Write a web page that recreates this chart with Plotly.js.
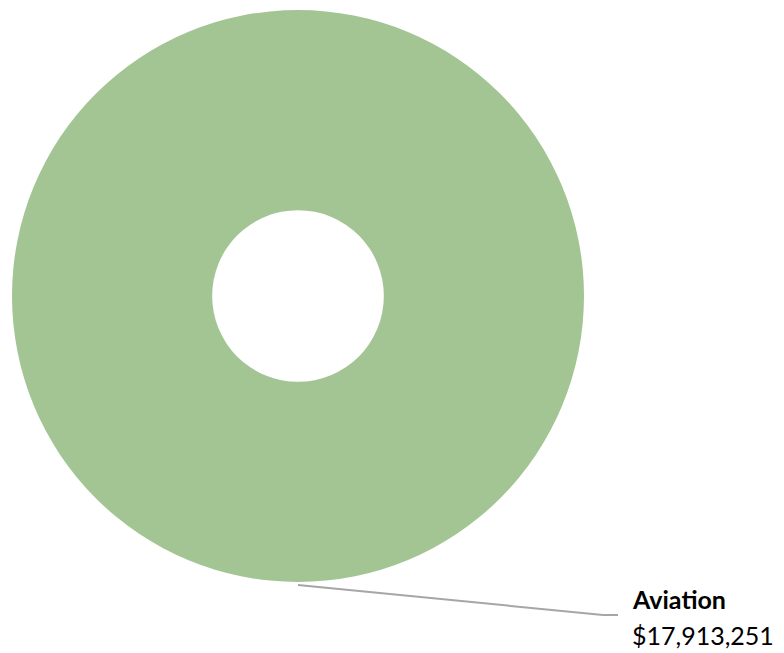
<!DOCTYPE html>
<html>
<head>
<meta charset="utf-8">
<script src="https://cdn.plot.ly/plotly-3.0.1.min.js"></script>
<style>
  html, body { margin: 0; padding: 0; background: #ffffff; }
  #chart { width: 784px; height: 653px; }
</style>
</head>
<body>
<div id="chart"></div>
<script>
// Funding by segment
const categories = ["Aviation"];
const amounts = [17913251];
const sliceColors = ["#A3C593"];

const W = 784, H = 653;
const px = x => x / W;
const py = y => 1 - y / H;

const fmt = v => "$" + v.toLocaleString("en-US");

const trace = {
  type: "pie",
  labels: categories,
  values: amounts,
  hole: 0.3,
  sort: false,
  direction: "clockwise",
  rotation: 0,
  textinfo: "none",
  hoverinfo: "label+value",
  marker: { colors: sliceColors, line: { width: 0 } },
  domain: { x: [px(12), px(584)], y: [py(582), py(10)] },
  showlegend: false
};

const labelFont = "Lato, 'Open Sans', 'Liberation Sans', sans-serif";

const layout = {
  width: W,
  height: H,
  margin: { l: 0, r: 0, t: 0, b: 0 },
  paper_bgcolor: "#ffffff",
  plot_bgcolor: "#ffffff",
  showlegend: false,
  shapes: [{
    type: "path",
    xref: "paper", yref: "paper",
    path: `M ${px(298)} ${py(585)} L ${px(603)} ${py(615)} L ${px(618)} ${py(615)}`,
    line: { color: "#A6A6A6", width: 2 }
  }],
  annotations: [
    {
      xref: "paper", yref: "paper",
      x: px(630), y: py(599),
      xanchor: "left", yanchor: "middle",
      showarrow: false,
      text: "<b>" + categories[0] + "</b>",
      font: { family: labelFont, size: 25, color: "#000000" }
    },
    {
      xref: "paper", yref: "paper",
      x: px(630), y: py(635),
      xanchor: "left", yanchor: "middle",
      showarrow: false,
      text: fmt(amounts[0]),
      font: { family: labelFont, size: 25, color: "#000000" }
    }
  ]
};

Plotly.newPlot("chart", [trace], layout, { displayModeBar: false, staticPlot: true });
</script>
</body>
</html>
